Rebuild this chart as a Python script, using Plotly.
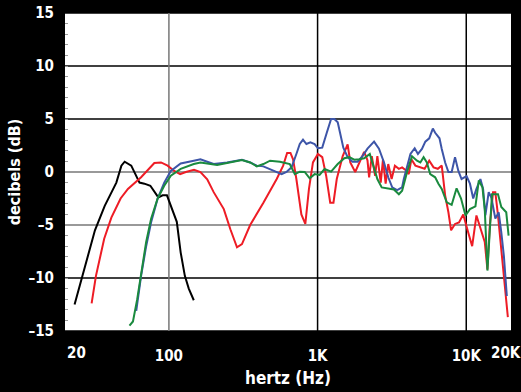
import math
import plotly.graph_objects as go

# ---- data ----
black_f = [23.2, 25.2, 28, 31.8, 37, 44.3, 47.9, 50.4, 55.8, 63.4, 68.4, 75, 84.9, 90.7, 97, 103, 113, 120, 128, 136, 147]
black_db = [-12.5, -10.7, -8.2, -5.5, -3.2, -1.0, 0.6, 0.97, 0.6, -1.0, -1.1, -1.3, -2.4, -2.2, -2.2, -3.2, -4.7, -7.6, -9.8, -11.0, -12.1]

red_f = [30.2, 32.3, 36.7, 41, 47.3, 53, 65, 79.8, 88.5, 98, 108.6, 119, 130, 147.5, 163, 181, 200, 234, 259, 287, 310, 352,
         432, 531, 587, 624, 657, 684, 720, 778, 827, 875, 931, 1005, 1075, 1142, 1216, 1279, 1346, 1476, 1593, 1660, 1791,
         1905, 2057, 2166, 2222, 2316, 2438, 2524, 2659, 2754, 2870, 2988, 3148, 3311, 3522, 3704, 3902, 4105, 4276, 4548,
         4911, 5248, 5637, 6026, 6439, 6843, 7211, 7586, 7907, 8405, 8939, 9550, 10310, 10960, 11710, 12650, 13320, 13880,
         14390, 15140, 15690, 16350, 17210, 18120, 19050]
red_db = [-12.4, -9.8, -6.3, -4.3, -2.5, -1.6, -0.5, 0.85, 0.9, 0.6, 0.1, -0.2, 0.0, 0.2, 0.0, -0.7, -1.9, -3.5, -5.4, -7.1, -6.8, -5.0,
          -2.9, -0.66, 0.6, 1.8, 1.8, 1.2, -0.66, -4.0, -4.9, -1.6, 0.9, 1.7, 1.4, -0.35, -2.9, -2.9, -0.66, 1.5, 2.6, 0.9, 0.0,
          0.9, 1.9, 1.1, -0.5, 1.5, -0.35, 1.5, -1.0, 1.2, -1.1, 0.75, -0.66, 0.6, 0.3, 0.44, 0.2, -0.2, 1.2, 0.6,
          0.44, 0.3, 1.07, 0.44, 0.3, 0.6, -2.2, -3.8, -5.5, -4.9, -4.75, -4.0, -5.7, -7.0, -4.1, -5.5, -6.6, -9.2,
          -5.1, -1.9, -1.9, -4.1, -7.3, -10.7, -13.7]

green_f = [54.3, 57.3, 61.2, 65, 70.3, 75.9, 84, 93, 103, 120, 147, 163, 190, 211, 246, 310, 352, 390, 432, 479, 558, 650, 703,
           759, 819, 885, 955, 1031, 1114, 1233, 1366, 1514, 1634, 1765, 1905, 2057, 2245, 2399, 2524, 2700, 2943, 3260, 3522,
           3704, 4000, 4315, 4665, 4911, 5165, 5433, 5723, 6180, 6500, 6843, 7391, 7980, 8610, 9226, 9886, 10590, 11530,
           12150, 12850, 13320, 13880, 14390, 14900, 16350, 17210, 18580, 19270]
green_db = [-14.5, -14.1, -12.0, -9.5, -6.6, -4.4, -2.5, -1.3, -0.35, 0.3, 0.75, 0.9, 0.75, 0.66, 0.85, 1.13, 0.9, 0.53, 0.75, 1.07, 0.97, 0.75, -0.2,
            0.03, 0.0, -0.6, -0.2, -0.28, 0.28, 0.03, 0.75, 1.3, 1.4, 1.16, 1.2, 1.3, 1.7, 0.28, -0.66, -1.45, -1.54, -1.65, -2.1,
            -1.76, 0.0, 1.48, 1.07, 0.9, 1.4, 0.9, -0.2, -0.5, -1.1, -1.6, -2.86, -3.1, -1.54, -2.5, -4.1, -3.5, -3.24,
            -0.8, -1.45, -3.5, -9.3, -5.1, -2.1, -2.1, -3.3, -3.8, -6.0]

blue_f = [60.3, 65, 70.3, 75.9, 84, 93, 103, 120, 147, 163, 181, 200, 246, 310, 352, 390, 432, 479, 531, 573, 618, 668, 720, 759,
          798, 841, 894, 955, 1005, 1075, 1153, 1233, 1298, 1366, 1416, 1490, 1593, 1718, 1857, 2005, 2166, 2399, 2588, 2798,
          2988, 3178, 3430, 3700, 3802, 4000, 4213, 4500, 4732, 5035, 5305, 5637, 5960, 6180, 6607, 6843, 7211, 7586, 7980,
          8405, 8850, 9300, 10050, 10590, 11140, 11710, 12450, 12980, 13450, 14160, 14750, 15690, 16530, 17210, 17910, 18750]
blue_db = [-13.1, -9.8, -7.0, -4.75, -2.5, -1.0, 0.1, 0.8, 1.07, 1.2, 0.97, 0.75, 0.9, 1.16, 0.9, 0.6, 0.53, 0.28, 0.0, -0.2, 0.0, 0.44, 1.7, 2.64,
           3.05, 2.64, 2.8, 2.64, 2.24, 2.3, 3.7, 5.0, 5.0, 4.7, 3.7, 2.3, 1.4, 0.97, 0.97, 1.5, 2.2, 2.86, 2.2, 0.9,
           -0.5, -1.45, -1.7, -1.45, -0.66, 0.6, 1.7, 2.24, 1.7, 2.17, 2.86, 3.18, 4.1, 3.7, 3.18, 2.17, 0.9, 0.0, 0.0,
           1.4, 0.1, -0.66, -0.4, -1.1, -2.5, -1.6, -0.66, -1.6, -4.1, -1.9, -2.4, -4.4, -3.8, -5.7, -7.9, -11.7]

y_ticks = [-15, -10, -5, 0, 5, 10, 15]
x_tick_vals = [100, 1000, 10000]
x_tick_text = ["100", "1K", "10K"]
x_edge_vals = [20, 20000]
x_edge_text = ["20", "20K"]

FONT = "Liberation Sans Narrow, DejaVu Sans Condensed, Roboto, Liberation Sans, sans-serif"

fig = go.Figure()
series = [
    (black_f, black_db, "#000000"),
    (red_f, red_db, "#ee1c25"),
    (blue_f, blue_db, "#3d55a8"),
    (green_f, green_db, "#1a8a3e"),
]
for f, d, c in series:
    fig.add_trace(go.Scatter(x=f, y=d, mode="lines", line=dict(color=c, width=2),
                             showlegend=False, hoverinfo="skip"))

grid_shapes = []
for yv in y_ticks:
    col = "#777777" if yv in (0, -5) else "#000000"
    grid_shapes.append(dict(type="line", xref="paper", x0=0, x1=1, yref="y", y0=yv, y1=yv,
                            line=dict(color=col, width=1.5), layer="below"))
for xv, col in [(100, "#777777"), (1000, "#000000"), (10000, "#000000")]:
    grid_shapes.append(dict(type="line", yref="paper", y0=0, y1=1, xref="x", x0=xv, x1=xv,
                            line=dict(color=col, width=1.5), layer="below"))

fig.update_layout(
    width=521, height=392,
    margin=dict(l=65, r=10, t=13, b=61, autoexpand=False),
    paper_bgcolor="black", plot_bgcolor="white",
    shapes=grid_shapes,
    font=dict(family=FONT, color="white", size=15),
    xaxis=dict(type="log", range=[math.log10(20), math.log10(20000)], automargin=False,
               tickvals=x_tick_vals, ticktext=x_tick_text, showgrid=False, zeroline=False,
               tickfont=dict(family=FONT, size=15, color="white", weight="bold"),
               ticks="", ticklabelstandoff=14,
               title=dict(text="<b>hertz (Hz)</b>", font=dict(family=FONT, size=17, color="white"), standoff=8)),
    yaxis=dict(range=[-15, 15], tickvals=y_ticks, ticktext=[str(v).replace("-", "\u2013") for v in y_ticks],
               showgrid=False, zeroline=False, automargin=False,
               tickfont=dict(family=FONT, size=15, color="white", weight="bold"),
               ticks="inside", ticklen=0, ticklabelstandoff=10,
               minor=dict(dtick=1, ticks="inside", ticklen=3, tickcolor="#999999", tickwidth=1),
               title=dict(text="<b>decibels (dB)</b>", font=dict(family=FONT, size=16, color="white"), standoff=3)),
)

fig.add_annotation(x=math.log10(x_edge_vals[0]), xref="x", y=-0.035, yref="paper", yanchor="top",
                   xanchor="left", text="<b>" + x_edge_text[0] + "</b>", showarrow=False,
                   font=dict(family=FONT, size=15, color="white"))
fig.add_annotation(x=math.log10(x_edge_vals[1]), xref="x", y=-0.035, yref="paper", yanchor="top",
                   xanchor="center", xshift=-5, text="<b>" + x_edge_text[1] + "</b>", showarrow=False,
                   font=dict(family=FONT, size=15, color="white"))

fig.write_html("out.html", config={"displayModeBar": False},
               post_script="document.body.style.margin='0';document.body.style.padding='0';"
                           "document.body.style.background='black';document.body.style.overflow='hidden';")
